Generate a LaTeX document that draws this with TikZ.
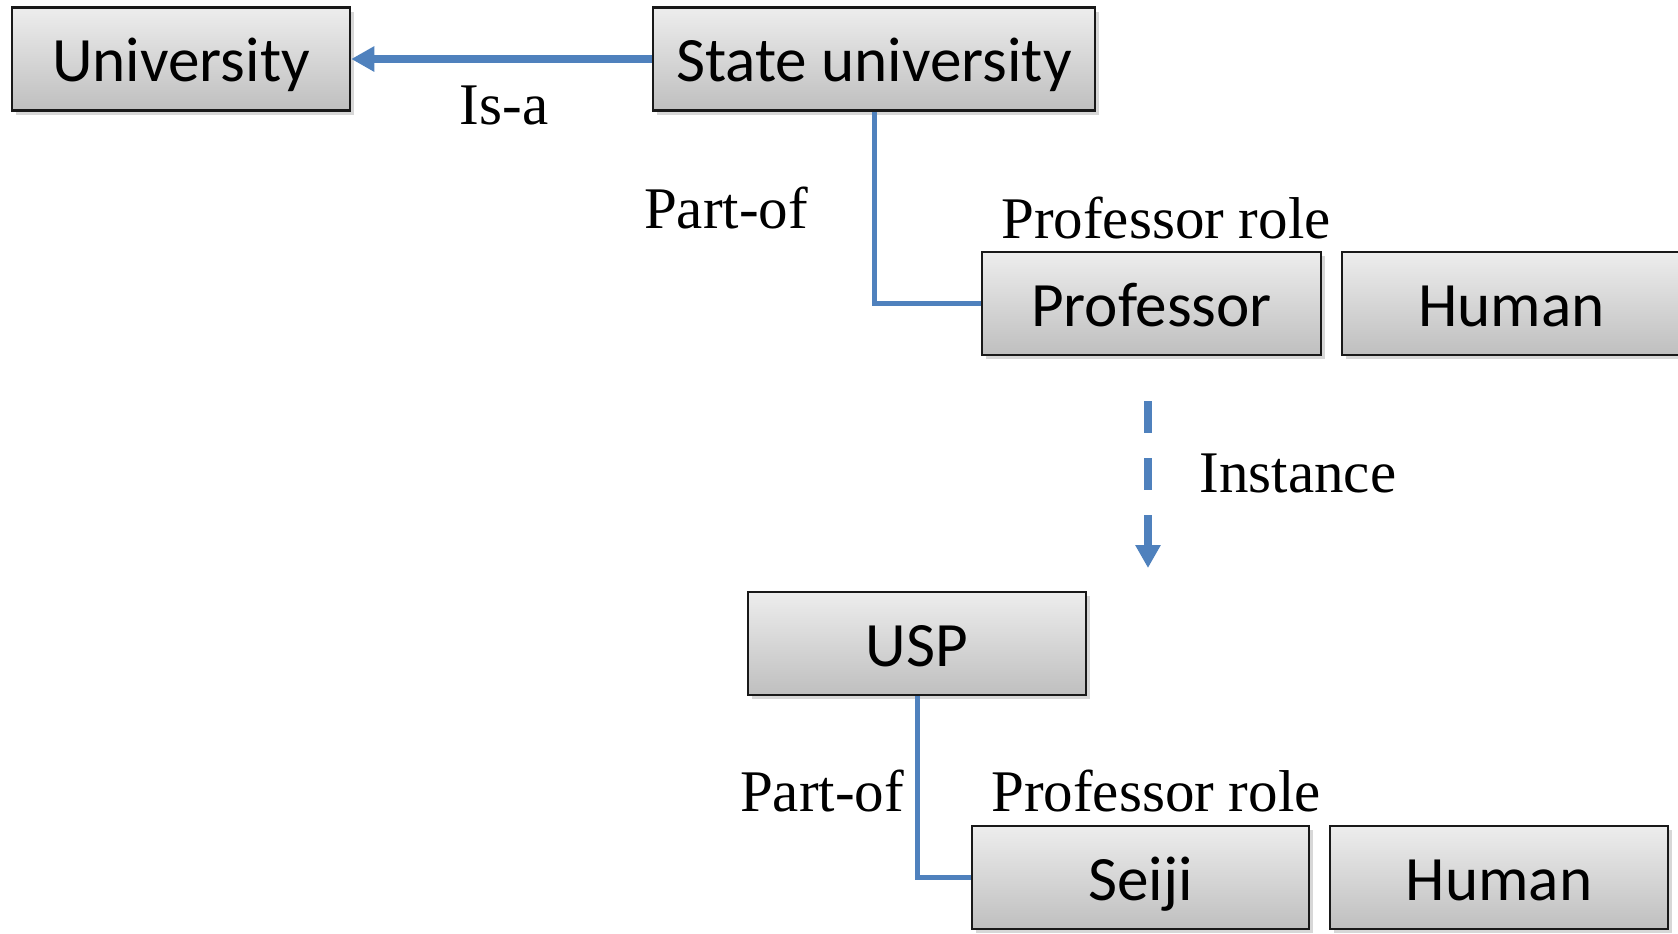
\documentclass[tikz,border=0pt]{standalone}
\usepackage{fontspec}
\setmainfont{Liberation Serif}
\newfontfamily\boxfont{Carlito}
\usetikzlibrary{arrows.meta,shadows}
\definecolor{linkblue}{HTML}{4F81BD}
\definecolor{boxtop}{HTML}{EDEDED}
\definecolor{boxbottom}{HTML}{BFBFBF}
\tikzset{
  concept/.style={draw=black!90, line width=1.25pt, rectangle,
    top color=boxtop, bottom color=boxbottom,
    minimum height=51.5pt, inner sep=0pt,
    text height=22.5pt, text depth=0pt,
    font=\boxfont\fontsize{31.6pt}{36pt}\selectfont,
    drop shadow={shadow xshift=1.8pt, shadow yshift=-2.2pt, opacity=0.35, fill=black!45}},
  relation/.style={font=\fontsize{29.5pt}{34pt}\selectfont, anchor=base, inner sep=0pt},
  partlink/.style={draw=linkblue, line width=2.5pt},
  arrowlink/.style={draw=linkblue, line width=3.75pt,
    -{Triangle[length=11.5pt,width=12pt]}},
}
\begin{document}
\begin{tikzpicture}[x=0.5pt,y=-0.5pt]
  \useasboundingbox (0,0) rectangle (1678,933);

  % class level
  \node[concept, minimum width=169pt] (univ) at (181,59) {University};
  \node[concept, minimum width=221pt] (state) at (874,59) {State university};
  \node[concept, minimum width=169.5pt] (prof) at (1151.5,303.5) {Professor};
  \node[concept, minimum width=169.5pt] (human1) at (1511.5,303.5) {Human};

  % instance level
  \node[concept, minimum width=169pt] (usp) at (917,643.5) {USP};
  \node[concept, minimum width=168.5pt] (seiji) at (1140.5,877.5) {Seiji};
  \node[concept, minimum width=169pt] (human2) at (1499,877.5) {Human};

  % relations
  \draw[arrowlink] (state.west) -- (univ.east);
  \draw[partlink] (state.south) |- (prof.west);
  \draw[partlink] (usp.south) |- (seiji.west);

  \coordinate (inststart) at (1148,401);
  \coordinate (instend) at (1148,568);
  \draw[arrowlink, dash pattern=on 16pt off 12.5pt] (inststart) -- (instend);

  % relation labels
  \node[relation] (isa) at (504,124) {Is-a};
  \node[relation] (part1) at (726,228) {Part-of};
  \node[relation] (role1) at (1166,238) {Professor role};
  \node[relation] (inst) at (1298,492) {Instance};
  \node[relation] (part2) at (822,811) {Part-of};
  \node[relation] (role2) at (1156,811) {Professor role};
\end{tikzpicture}
\end{document}
